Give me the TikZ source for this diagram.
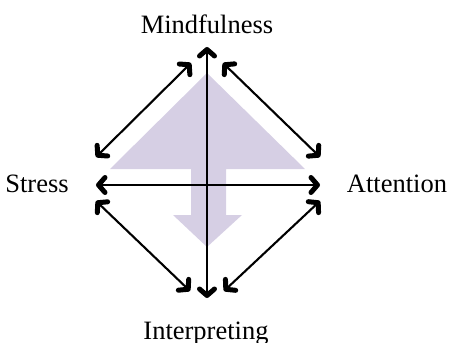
\documentclass[tikz,border=0pt]{standalone}
\usepackage{fontspec}
\setmainfont{Liberation Serif}
\usetikzlibrary{arrows.meta}
\definecolor{lav}{HTML}{D6CFE4}
\tikzset{tipx/.tip={Straight Barb[length=6.5pt,width=15pt,line width=5pt 0,round]}}
\begin{document}
\begin{tikzpicture}[x=1pt,y=-1pt,
  lbl/.style={font=\fontsize{26.5}{30}\selectfont, anchor=base, inner sep=0pt},
  dbl/.style={line width=2.1pt, tipx-tipx}]
\useasboundingbox (0,0) rectangle (451,343);
% background arrow
\fill[lav] (207,73) -- (305,169) -- (226,169) -- (226,215) -- (242,215) -- (207,247)
  -- (173,215) -- (191,215) -- (191,169) -- (110,169) -- cycle;
% labels
\node[lbl] (m) at (207,33) {Mindfulness};
\node[lbl] (s) at (37,192) {Stress};
\node[lbl] (a) at (397,192) {Attention};
\node[lbl] (i) at (206,339) {Interpreting};
% endpoints
\coordinate (top) at (207,47);
\coordinate (bot) at (207,298);
\coordinate (lft) at (96,185);
\coordinate (rgt) at (320,185);
\coordinate (ul1) at (96,157);
\coordinate (ul2) at (191,63);
\coordinate (ur1) at (223,63);
\coordinate (ur2) at (320,157);
\coordinate (ll1) at (96,201);
\coordinate (ll2) at (190,291);
\coordinate (lr1) at (224,291);
\coordinate (lr2) at (320,201);
\draw[dbl] (top) -- (bot);
\draw[dbl] (lft) -- (rgt);
\draw[dbl] (ul1) -- (ul2);
\draw[dbl] (ur1) -- (ur2);
\draw[dbl] (ll1) -- (ll2);
\draw[dbl] (lr1) -- (lr2);
\end{tikzpicture}
\end{document}
